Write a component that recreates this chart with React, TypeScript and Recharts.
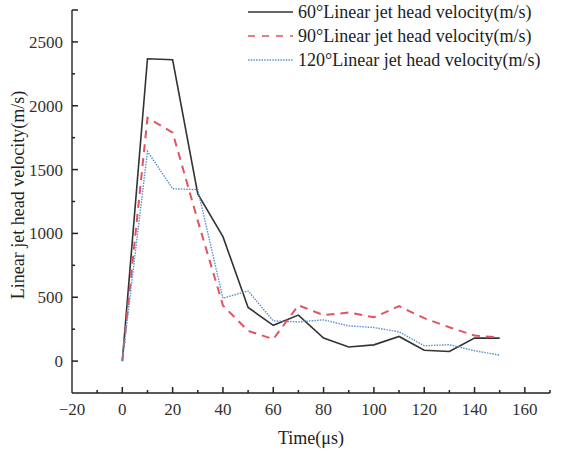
import React from 'react';
import { LineChart, Line, XAxis, YAxis, Legend } from 'recharts';

// time in microseconds
const time = [0, 10, 20, 30, 40, 50, 60, 70, 80, 90, 100, 110, 120, 130, 140, 150];
const v60 = [0, 2368, 2360, 1310, 975, 420, 280, 360, 180, 110, 127, 193, 85, 75, 180, 180];
const v90 = [0, 1905, 1790, 1100, 435, 237, 172, 437, 360, 380, 343, 430, 336, 265, 200, 185];
const v120 = [0, 1643, 1350, 1343, 492, 549, 315, 307, 323, 276, 263, 229, 120, 128, 81, 47];

const xTicks = [-20, -10, 0, 10, 20, 30, 40, 50, 60, 70, 80, 90, 100, 110, 120, 130, 140, 150, 160, 170];
const yTicks = [0, 250, 500, 750, 1000, 1250, 1500, 1750, 2000, 2250, 2500, 2750];

const seriesNames = [
  '60°Linear jet head velocity(m/s)',
  '90°Linear jet head velocity(m/s)',
  '120°Linear jet head velocity(m/s)',
];

const data = time.map((t, i) => ({ t, a: v60[i], b: v90[i], c: v120[i] }));

const FONT = '"Liberation Serif", "Times New Roman", serif';
const AXIS = '#222';
const AXIS_X = 72; // left edge of plot
const AXIS_Y = 393; // bottom edge of plot

const XTick = (props: any) => {
  const { x, payload } = props;
  const v = payload.value;
  const major = v % 20 === 0;
  const showLabel = major && v <= 160;
  const len = major ? 6 : 3;
  return (
    <g>
      {v > -20 && <path d={`M${x},${AXIS_Y}L${x},${AXIS_Y - len}`} stroke={AXIS} strokeWidth={1.5} fill="none" />}
      {showLabel && (
        <text x={x} y={AXIS_Y + 22} textAnchor="middle" fontSize={17} fontFamily={FONT} fill="#333">
          {v < 0 ? '\u2212' + Math.abs(v) : v}
        </text>
      )}
    </g>
  );
};

const YTick = (props: any) => {
  const { y, payload } = props;
  const v = payload.value;
  const major = v % 500 === 0 || v === 2750;
  const showLabel = v % 500 === 0;
  const len = major ? 6 : 3;
  return (
    <g>
      <path d={`M${AXIS_X},${y}L${AXIS_X + len},${y}`} stroke={AXIS} strokeWidth={1.5} fill="none" />
      {showLabel && (
        <text x={AXIS_X - 9} y={y + 6} textAnchor="end" fontSize={17} fontFamily={FONT} fill="#333">
          {v}
        </text>
      )}
    </g>
  );
};

const LegendBox = () => (
  <svg width={330} height={75}>
    {seriesNames.map((name, i) => {
      const y = 12 + i * 24;
      const stroke = i === 0 ? '#333' : i === 1 ? '#e2535f' : '#5b8fcf';
      const dash = i === 0 ? undefined : i === 1 ? '7 7' : '1.5 1.2';
      return (
        <g key={name}>
          <line x1={8} x2={53} y1={y} y2={y} stroke={stroke} strokeWidth={i === 2 ? 1.3 : 1.6} strokeDasharray={dash} />
          <text x={58} y={y + 6} fontSize={18} fontFamily={FONT} fill="#222">
            {name}
          </text>
        </g>
      );
    })}
  </svg>
);

export default function App() {
  return (
    <div style={{ position: 'absolute', left: 0, top: 0, width: 571, height: 452, background: '#fff' }}>
      <LineChart width={571} height={452} data={data} margin={{ top: 10, right: 21, bottom: 0, left: 0 }}>
        <XAxis
          dataKey="t"
          type="number"
          domain={[-20, 170]}
          ticks={xTicks}
          interval={0}
          tickSize={0}
          tickLine={false}
          height={59}
          stroke={AXIS}
          strokeWidth={1.4}
          tick={<XTick />}
          label={{ value: 'Time(μs)', position: 'insideBottom', offset: 8, fontSize: 18, fontFamily: FONT, fill: '#222' }}
        />
        <YAxis
          type="number"
          domain={[-250, 2750]}
          ticks={yTicks}
          interval={0}
          tickSize={0}
          tickLine={false}
          width={72}
          stroke={AXIS}
          strokeWidth={1.4}
          tick={<YTick />}
          label={{
            content: () => (
              <text
                x={18}
                y={195}
                transform="rotate(-90 18 195)"
                textAnchor="middle"
                dominantBaseline="central"
                fontSize={18}
                fontFamily={FONT}
                fill="#222"
              >
                Linear jet head velocity(m/s)
              </text>
            ),
          }}
        />
        <Legend
          layout="horizontal"
          verticalAlign="middle"
          align="center"
          wrapperStyle={{ position: 'absolute', top: 0, left: 240, width: 330, height: 75 }}
          content={() => <LegendBox />}
        />
        <Line dataKey="a" name={seriesNames[0]} stroke="#333" strokeWidth={1.6} dot={false} isAnimationActive={false} />
        <Line dataKey="b" name={seriesNames[1]} stroke="#e2535f" strokeWidth={2} strokeDasharray="8 6" dot={false} isAnimationActive={false} />
        <Line dataKey="c" name={seriesNames[2]} stroke="#5b8fcf" strokeWidth={1.4} strokeDasharray="1.5 1.2" dot={false} isAnimationActive={false} />
      </LineChart>
    </div>
  );
}
